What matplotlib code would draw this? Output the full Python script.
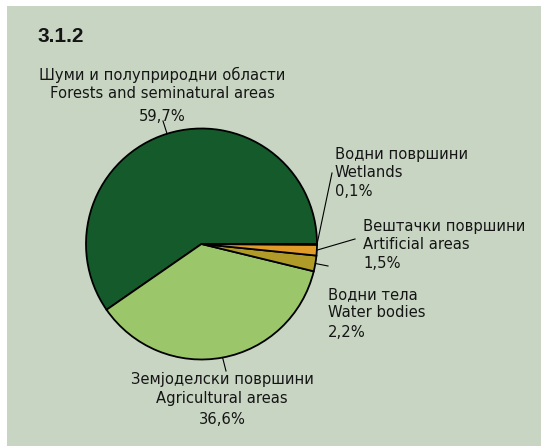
import numpy as np
import matplotlib
matplotlib.use('Agg')
import matplotlib.pyplot as plt
from matplotlib.patches import Rectangle

plt.rcParams['font.family'] = ['DejaVu Sans']

# land cover shares, %
labels_mk = ['Шуми и полуприродни области', 'Земјоделски површини', 'Водни тела',
             'Вештачки површини', 'Водни површини']
labels_en = ['Forests and seminatural areas', 'Agricultural areas', 'Water bodies',
             'Artificial areas', 'Wetlands']
shares = [59.7, 36.6, 2.2, 1.5, 0.1]
share_text = ['59,7%', '36,6%', '2,2%', '1,5%', '0,1%']

colors = ['#155a2b', '#9bc66a', '#b09b28', '#e09b28', '#1a1a1a']
bg = '#c8d5c3'

W, H = 541, 447
fig = plt.figure(figsize=(W / 100, H / 100), dpi=100, facecolor='white')
ax = fig.add_axes([0, 0, 1, 1])

# pixel-style coordinates, y grows downwards
cx, cy, r = 201.5, 244, 115.5
ax.add_patch(Rectangle((7, 6), W - 7, 440, facecolor=bg, edgecolor='none', zorder=0))

wedges, _ = ax.pie(shares, colors=colors, startangle=0, counterclock=False,
                   center=(cx, cy), radius=r, frame=True,
                   wedgeprops=dict(edgecolor='black', linewidth=1.3))
ax.set_xlim(0, W)
ax.set_ylim(H, 0)
ax.set_aspect('equal')
ax.axis('off')

# label layout: leader end, text x, baselines of the three lines, alignment
layout = [
    ((163, 121), 162, (80, 98, 121), 'center'),
    ((226, 371), 222, (384, 403, 424), 'center'),
    ((328, 266), 328, (299, 317, 337), 'left'),
    ((355, 239), 363, (231, 249, 268), 'left'),
    ((332, 173), 335, (159, 177, 196), 'left'),
]

for w, mk, en, st, (end, tx, bases, ha) in zip(wedges, labels_mk, labels_en, share_text, layout):
    # on screen the angles run counterclockwise because y is flipped
    mid = np.deg2rad((w.theta1 + w.theta2) / 2)
    ex, ey = cx + r * np.cos(mid), cy + r * np.sin(mid)
    ax.plot([ex, end[0]], [ey, end[1]], color='black', lw=0.8, zorder=3)
    for line, by in zip([mk, en, st], bases):
        ax.text(tx, by, line, ha=ha, va='baseline', fontsize=10.6, color='#151515')

ax.text(38, 42.5, '3.1.2', ha='left', va='baseline', fontsize=15, fontweight='bold',
        family='Liberation Sans', color='#151515')

fig.savefig('out.png', dpi=100, facecolor='white')
